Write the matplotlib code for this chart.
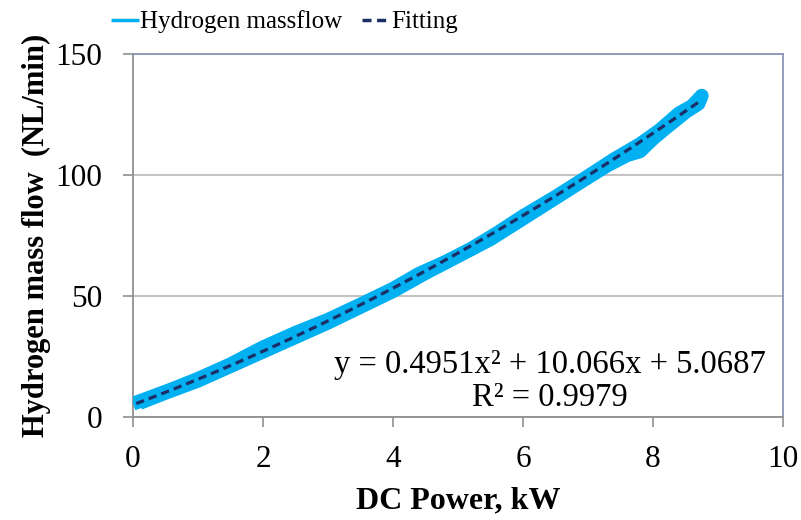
import matplotlib
matplotlib.use("Agg")
import matplotlib.pyplot as plt
import numpy as np

power_kw = [0.0, 0.3, 0.6, 1.0, 1.5, 2.0, 2.5, 3.0, 3.5, 4.0, 4.4, 4.8, 5.2, 5.6,
            6.0, 6.5, 7.0, 7.4, 7.8, 8.1, 8.4, 8.6, 8.75,
            8.7, 8.5, 8.2, 8.0, 7.8, 7.6, 7.3, 7.0, 6.5, 6.0, 5.5, 5.0, 4.5,
            4.0, 3.5, 3.0, 2.5, 2.0, 1.5, 1.0, 0.5, 0.1]
h2_flow = [5.5, 8.5, 11.5, 15.8, 21.8, 28.8, 34.8, 40.2, 46.5, 53.0, 59.2, 64.0, 69.5, 76.0,
           83.0, 91.0, 99.5, 106.5, 112.8, 118.5, 125.5, 128.5, 132.8,
           129.5, 126.0, 119.5, 115.0, 109.8, 108.2, 104.0, 99.0, 90.5, 82.0, 73.5, 66.5, 59.5,
           52.0, 45.5, 39.0, 33.0, 27.0, 21.0, 15.0, 10.0, 5.8]

# Fitted polynomial (from the chart's trendline label)
fit_coef = [0.4951, 10.066, 5.0687]
fit_range = [0.05, 8.75]

x_ticks = [0, 2, 4, 6, 8, 10]
y_ticks = [0, 50, 100, 150]

plt.rcParams['font.family'] = ['Liberation Serif', 'DejaVu Serif']

fig = plt.figure(figsize=(8.01, 5.20), dpi=100)
ax = fig.add_axes([0.166, 0.198, 0.8115, 0.698])

ax.plot(power_kw, h2_flow, color='#00B0F0', lw=10, solid_joinstyle='round',
        solid_capstyle='butt', label='Hydrogen massflow', zorder=3)
xf = np.linspace(fit_range[0], fit_range[1], 200)
yf = np.polyval(fit_coef, xf)
ax.plot(xf, yf, color='#1B2F66', lw=2.3, dashes=(2.6, 1.6), label='Fitting', zorder=4)

ax.set_xlim(0, 10)
ax.set_ylim(0, 150)
ax.set_xticks(x_ticks)
ax.set_yticks(y_ticks)
ax.tick_params(axis='both', labelsize=22.5, direction='out', length=7, width=1.2,
               color='#909090')
ax.tick_params(axis='x', pad=13)
ax.tick_params(axis='y', pad=15)
ax.grid(axis='y', color='#C4C4C4', lw=1.5, zorder=0)
ax.set_axisbelow(True)

for s in ['left', 'bottom']:
    ax.spines[s].set_color('#909090')
    ax.spines[s].set_linewidth(1.3)
for s in ['top', 'right']:
    ax.spines[s].set_color('#8A96B8')
    ax.spines[s].set_linewidth(1.3)

ax.set_xlabel('DC Power, kW', fontsize=23, fontweight='bold', labelpad=9)
ax.set_ylabel('Hydrogen mass flow  (NL/min)', fontsize=22, fontweight='bold', labelpad=3)

ax.text(0.641, 0.099, 'y = 0.4951x\u00b2 + 10.066x + 5.0687\nR\u00b2 = 0.9979',
        transform=ax.transAxes, ha='center', va='center', fontsize=23.5,
        linespacing=1.12, zorder=5)

leg = fig.legend(loc='center', bbox_to_anchor=(0.355, 0.958), ncol=2, frameon=False,
                 fontsize=18, handlelength=1.1, handletextpad=0.05, columnspacing=0.8)
for h in leg.get_lines():
    h.set_linewidth(2.5)

fig.savefig('out.png', dpi=100)
